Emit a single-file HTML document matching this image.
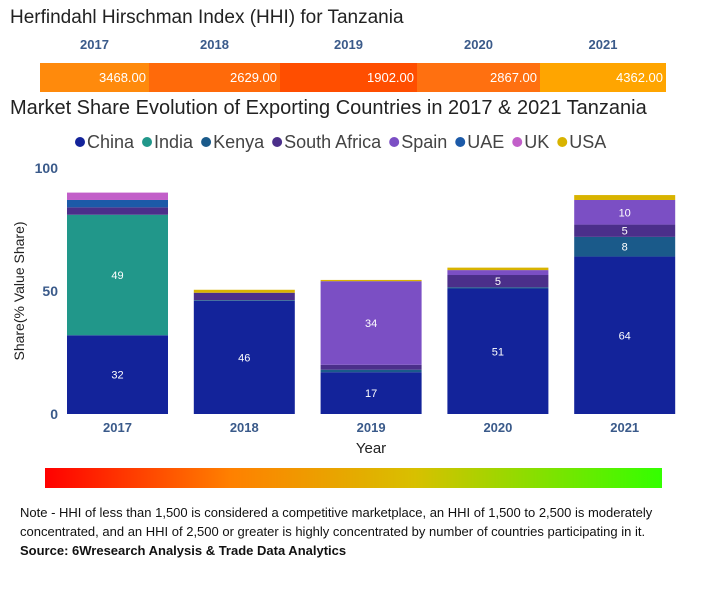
<!DOCTYPE html>
<html><head><meta charset="utf-8"><style>
body{margin:0;background:#fff;font-family:"Liberation Sans",sans-serif;width:705px;height:600px;overflow:hidden;position:relative}
.t{position:absolute;color:#222;font-size:19px;white-space:nowrap}
</style></head><body>
<div class="t" style="left:10px;top:7px">Herfindahl Hirschman Index (HHI) for Tanzania</div>
<div id="hhi"></div>
<div class="t" style="left:10px;top:97px;font-size:20px">Market Share Evolution of Exporting Countries in 2017 &amp; 2021 Tanzania</div>
<svg id="ch" width="705" height="600" style="position:absolute;left:0;top:0"></svg>
<div style="position:absolute;left:45px;top:468px;width:617px;height:20px;background:linear-gradient(to right,#ff0000,#ff8000 30%,#d8c000 60%,#33ff00);"></div>
<div style="position:absolute;left:20px;top:503px;width:690px;font-size:13px;line-height:19px;color:#111">Note - HHI of less than 1,500 is considered a competitive marketplace, an HHI of 1,500 to 2,500 is moderately concentrated, and an HHI of 2,500 or greater is highly concentrated by number of countries participating in it.<br><b>Source: 6Wresearch Analysis &amp; Trade Data Analytics</b></div>
<script>
const years=["2017","2018","2019","2020","2021"];
const hhi=[3468,2629,1902,2867,4362];
const hhiColors=["#ff8a0c","#ff6a0a","#ff4e00","#ff7010","#ffa500"];
const series=["China","India","Kenya","South Africa","Spain","UAE","UK","USA"];
const colors=["#13239a","#21978a","#1a5a8a","#4b2f8a","#7b4fc4","#1c5aa8","#c25fc9","#d8b300"];
const China=[32,46,17,51,64];
const India=[49,0,0,0,0];
const Kenya=[0,0.3,1,0.5,8];
const SouthAfrica=[3,3,2,5,5];
const Spain=[0,0,34,2,10];
const UAE=[3,0,0,0,0];
const UK=[3,0,0,0,0];
const USA=[0,1.2,0.5,1,2];
const vals=[China,India,Kenya,SouthAfrica,Spain,UAE,UK,USA];
const ns="http://www.w3.org/2000/svg";
const h=document.getElementById('hhi');
const bounds=[40,149,280,417,540,666];
years.forEach((y,i)=>{
 const l=document.createElement('div');
 
 
 l.style.cssText=`position:absolute;left:${bounds[i]}px;width:${bounds[i+1]-bounds[i]}px;top:37px;text-align:center;font-size:13px;font-weight:bold;color:#3a5a8a`;
 l.textContent=y;h.appendChild(l);
 const c=document.createElement('div');
 
 
 c.style.cssText=`position:absolute;left:${bounds[i]}px;width:${bounds[i+1]-bounds[i]}px;top:63px;height:29px;background:${hhiColors[i]};color:#fff;font-size:13px;text-align:right;line-height:29px;box-sizing:border-box;padding-right:3px`;
 c.textContent=hhi[i].toFixed(2);h.appendChild(c);
});
const svg=document.getElementById('ch');
function el(t,a,txt){const e=document.createElementNS(ns,t);for(const k in a)e.setAttribute(k,a[k]);if(txt!=null)e.textContent=txt;svg.appendChild(e);return e;}
const y0=414,py=2.46;
const Y=v=>y0-v*py;
const X=i=>67+i*126.8;const bw=101;
let lx=75;
series.forEach((s,i)=>{
 const c=el('circle',{cx:lx+5,cy:142,r:5,fill:colors[i]});
 
 
 const t=el('text',{x:lx+12,y:148,'font-size':18,fill:'#444','font-family':'Liberation Sans'},s);
 
 
 lx+=12+t.getComputedTextLength()+8;
});
[0,50,100].forEach(v=>{
 const t=el('text',{x:58,y:Y(v)+5,'font-size':14,'font-weight':'bold',fill:'#3a5a8a','text-anchor':'end'},v);
 
 
});
const yt=el('text',{x:24,y:291,'font-size':14,fill:'#222','text-anchor':'middle',transform:'rotate(-90 24 291)'},'Share(% Value Share)');


years.forEach((yr,i)=>{
 let cum=0;
 vals.forEach((arr,s)=>{
  const v=arr[i];if(!v)return;
  const r=el('rect',{x:X(i),y:Y(cum+v),width:bw,height:v*py,fill:colors[s]});
  
  
  if(v>=5){const t=el('text',{x:X(i)+bw/2,y:Y(cum+v/2)+4,'font-size':11,fill:'#fff','text-anchor':'middle'},Math.round(v));
   
   }
  cum+=v;
 });
 const t=el('text',{x:X(i)+bw/2,y:432,'font-size':13,'font-weight':'bold',fill:'#3a5a8a','text-anchor':'middle'},yr);
 
 
});
const xt=el('text',{x:371,y:453,'font-size':15,fill:'#222','text-anchor':'middle'},'Year');


</script>
</body></html>
